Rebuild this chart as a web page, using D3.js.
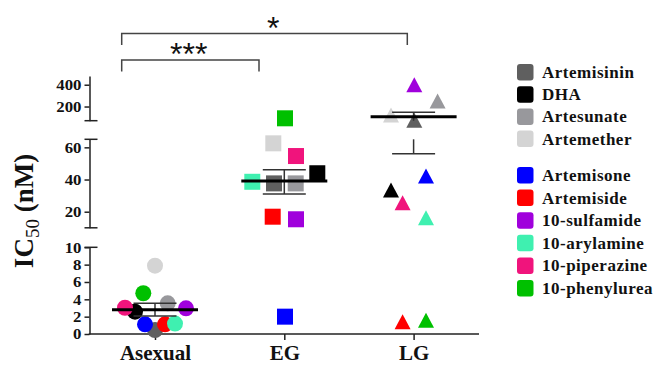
<!DOCTYPE html>
<html><head><meta charset="utf-8">
<script src="https://cdn.jsdelivr.net/npm/d3@7"></script>
<style>body{margin:0;background:#fff}svg{display:block}</style>
</head><body>
<script>
// ---- data ----
const compounds = ["Artemisinin","DHA","Artesunate","Artemether","Artemisone","Artemiside","10-sulfamide","10-arylamine","10-piperazine","10-phenylurea"];
const groups = ["Asexual","EG","LG"];
const asexualIC50 = [0.46, 2.57, 3.54, 7.88, 1.12, 1.12, 2.96, 1.2, 3.03, 4.7];
const egIC50      = [37.6, 43.9, 37.6, 62.5, 2.0, 16.9, 15.3, 38.6, 54.6, 92];
const lgIC50      = [75, 33.5, 250, 123, 42.2, 1.4, 400, 16.3, 25.6, 1.6];
const groupMean   = [2.8, 39.1, 107];
const groupErrLow = [2.08, 31, 56];
const groupErrHigh= [3.54, 46.1, 147];
const yTicksLow = [0,2,4,6,8,10], yTicksMid = [20,40,60], yTicksHigh = [200,400];
const significance = [{from:"Asexual", to:"LG", label:"*"},{from:"Asexual", to:"EG", label:"***"}];

// ---- style / layout ----
const colors = ["#5f5f5f","#000000","#98989c","#d4d4d4","#0000ff","#ff0000","#a000dc","#3ff0b0","#f0147c","#00c000"];
const shapes = ["circle","square","triangle"];
const jitter = [
  [0,-20,12.7,0,-10,10,31,20,-30,-11.7],
  [-10.3,33,11.4,-11,0.7,-11.6,11.7,-32,11.7,0.7],
  [0.7,-22.6,24,-22.6,12.4,-11,0.7,12.4,-11,12.4]
];
const W = 656, H = 365, axisX = 89.5;
const svg = d3.select("body").append("svg").attr("width",W).attr("height",H);

const segments = [
  {scale: d3.scaleLinear().domain([0,10]).range([334,247.3]), ticks: yTicksLow, capTop:true, capBottom:false},
  {scale: d3.scaleLinear().domain([10,65]).range([227.8,139.3]), ticks: yTicksMid, capTop:true, capBottom:true},
  {scale: d3.scaleLinear().domain([70,480]).range([120.7,76]), ticks: yTicksHigh, capTop:false, capBottom:true}
];
function segOf(v){ return v<=10?segments[0]:(v<=67.5?segments[1]:segments[2]); }
function y(v){ return segOf(v).scale(v); }

const x = d3.scalePoint().domain(groups).range([155,413.6]);

const serif = "'Liberation Serif','Times New Roman',serif";

// y axis segments
segments.forEach(s=>{
  const g = svg.append("g").attr("transform",`translate(${axisX},0)`);
  g.call(d3.axisLeft(s.scale).tickValues(s.ticks).tickSize(5).tickSizeOuter(0).tickFormat(d3.format("d")));
  g.select(".domain").attr("stroke","#222").attr("stroke-width",1.5);
  g.selectAll(".tick line").attr("stroke","#222").attr("stroke-width",1.5);
  g.selectAll(".tick text").remove();
  g.selectAll(".tick").append("text")
    .attr("transform","translate(-8,0) scale(1.2,1)")
    .attr("text-anchor","end").attr("dy","0.35em")
    .style("font-family",serif).style("font-weight","bold").style("font-size","14px").attr("fill","#111")
    .text(d=>d);
  const [r0,r1] = s.scale.range();
  if(s.capTop) g.append("line").attr("x1",-5).attr("x2",8).attr("y1",r1).attr("y2",r1).attr("stroke","#222").attr("stroke-width",1.5);
  if(s.capBottom) g.append("line").attr("x1",-5).attr("x2",8).attr("y1",r0).attr("y2",r0).attr("stroke","#222").attr("stroke-width",1.5);
});

// x axis
const gx = svg.append("g").attr("transform","translate(0,334)");
gx.call(d3.axisBottom(x).tickSize(6).tickSizeOuter(0));
gx.select(".domain").remove();
gx.append("line").attr("x1",axisX-0.75).attr("x2",479).attr("stroke","#222").attr("stroke-width",1.5);
gx.selectAll(".tick line").attr("stroke","#222").attr("stroke-width",1.5);
gx.selectAll(".tick text").attr("y",26).attr("dy",0)
  .style("font-family",serif).style("font-weight","bold").style("font-size","21px").attr("fill","#111");

// y title
const yt = svg.append("text").attr("transform","translate(33,211) rotate(-90)")
  .attr("text-anchor","middle").style("font-family",serif).style("font-weight","bold").style("font-size","27px").attr("fill","#111");
yt.append("tspan").text("IC");
yt.append("tspan").attr("dy",6).style("font-size","19px").style("font-weight","normal").text("50");
yt.append("tspan").attr("dy",-6).text(" (nM)");

// points
const allData = [asexualIC50, egIC50, lgIC50];
allData.forEach((vals,gi)=>{
  const gg = svg.append("g");
  vals.forEach((v,i)=>{
    const cx = x(groups[gi]) + jitter[gi][i], cy = y(v);
    if(shapes[gi]==="circle") gg.append("circle").attr("cx",cx).attr("cy",cy).attr("r",8).attr("fill",colors[i]);
    else if(shapes[gi]==="square") gg.append("rect").attr("x",cx-8).attr("y",cy-8).attr("width",16).attr("height",16).attr("fill",colors[i]);
    else gg.append("path").attr("d",`M${cx},${cy-7.5}L${cx+8},${cy+7.5}L${cx-8},${cy+7.5}Z`).attr("fill",colors[i]);
  });
});

// mean and error bars
groups.forEach((gname,gi)=>{
  const cx = x(gname);
  const lo = groupErrLow[gi], hi = groupErrHigh[gi];
  segments.forEach(s=>{
    const [d0,d1] = s.scale.domain();
    const a = Math.max(lo,d0), b = Math.min(hi,d1);
    if(a<b) svg.append("line").attr("x1",cx).attr("x2",cx).attr("y1",s.scale(a)).attr("y2",s.scale(b)).attr("stroke","#333").attr("stroke-width",1.5);
  });
  [lo,hi].forEach(v=>svg.append("line").attr("x1",cx-21.5).attr("x2",cx+21.5).attr("y1",y(v)).attr("y2",y(v)).attr("stroke","#333").attr("stroke-width",1.5));
  svg.append("line").attr("x1",cx-43).attr("x2",cx+43).attr("y1",y(groupMean[gi])).attr("y2",y(groupMean[gi])).attr("stroke","#000").attr("stroke-width",3);
});

// significance brackets
const brLayout = [{y:33.5, dx1:-33.3, dx2:-6.3, lx:273.3}, {y:60, dx1:-33.3, dx2:-25.3, lx:188.8}];
significance.forEach((s,k)=>{
  const L = brLayout[k];
  const x1 = x(s.from)+L.dx1, x2 = x(s.to)+L.dx2;
  svg.append("path").attr("d",`M${x1},${L.y+11.5}V${L.y}H${x2}V${L.y+11.5}`).attr("fill","none").attr("stroke","#444").attr("stroke-width",1.5);
  svg.append("text").attr("x",L.lx).attr("y",L.y+5).attr("text-anchor","middle")
    .style("font-family","'Liberation Sans',Arial,sans-serif").style("font-size","32px").attr("fill","#111").text(s.label);
});

// legend
const legY = [72,94.2,116.4,138.6,175,197.6,220.2,242.8,265.4,288];
const lg = svg.append("g");
compounds.forEach((c,i)=>{
  lg.append("rect").attr("x",517).attr("y",legY[i]-8).attr("width",16.5).attr("height",16.5).attr("rx",3).attr("fill",colors[i]);
  lg.append("text").attr("x",542).attr("y",legY[i]+6).style("font-family",serif).style("font-weight","bold")
    .style("font-size","17px").style("letter-spacing","0.5px").attr("fill","#111").text(c);
});
</script>
</body></html>
